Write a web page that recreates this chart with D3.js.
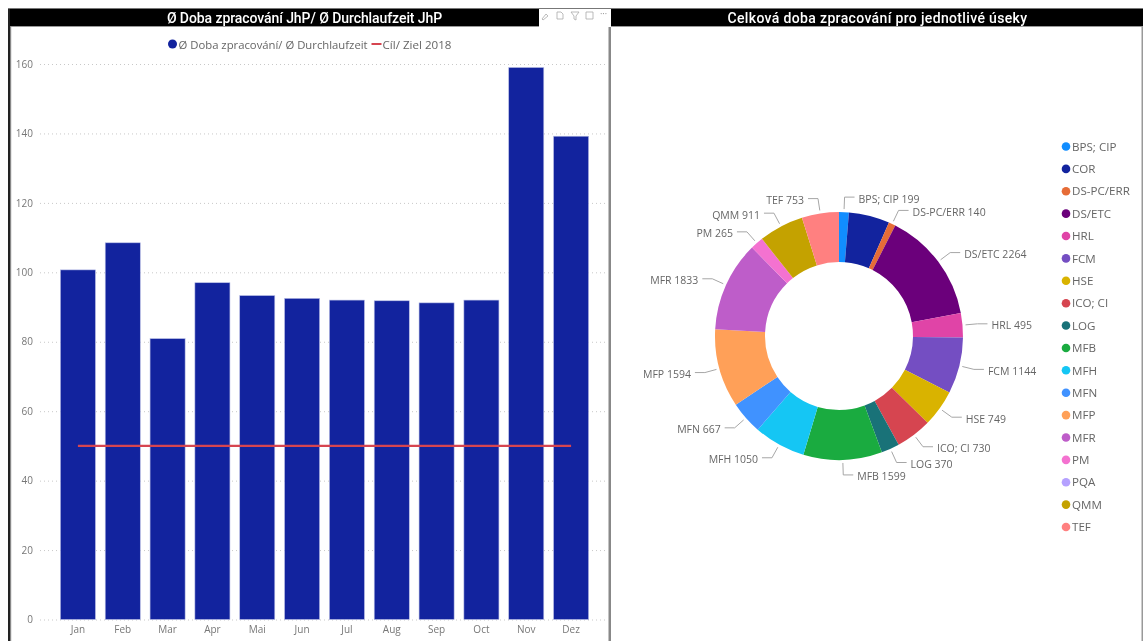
<!DOCTYPE html>
<html><head><meta charset="utf-8">
<script src="https://cdn.jsdelivr.net/npm/d3@7/dist/d3.min.js"></script>
<style>
html,body{margin:0;padding:0;background:#fff;overflow:hidden}
svg{display:block;filter:blur(0.35px)}
text{font-family:"Open Sans","Noto Sans",sans-serif;fill:#666}
.title{font-family:Roboto,sans-serif;font-weight:500;fill:#fff;font-size:14px;text-anchor:middle}
</style></head><body>
<script>
const months = ["Jan","Feb","Mar","Apr","Mai","Jun","Jul","Aug","Sep","Oct","Nov","Dez"];
const avgDays = [100.7,108.5,80.9,97,93.3,92.5,92,91.8,91.2,92,159,139.2];
const targetDays = [50,50,50,50,50,50,50,50,50,50,50,50];
const yTicks = [0,20,40,60,80,100,120,140,160];
const sections = ["BPS; CIP","COR","DS-PC/ERR","DS/ETC","HRL","FCM","HSE","ICO; CI","LOG","MFB","MFH","MFN","MFP","MFR","PM","PQA","QMM","TEF"];
const sectionTotals = [199,830,140,2264,495,1144,749,730,370,1599,1050,667,1594,1833,265,0,911,753];
const unlabelled = ["COR","PQA"];
const sectionColors = ["#118DFF","#12239E","#E66C37","#6B007B","#E044A7","#744EC2","#D9B300","#D64550","#197278","#1AAB40","#15C6F4","#4092FF","#FFA058","#BE5DC9","#F472D0","#B5A1FF","#C4A200","#FF8080"];
const titleLeft = "Ø Doba zpracování JhP/ Ø Durchlaufzeit JhP";
const titleRight = "Celková doba zpracování pro jednotlivé úseky";
const legendLeft = ["Ø Doba zpracování/ Ø Durchlaufzeit","Cíl/ Ziel 2018"];

const svg = d3.select("body").append("svg").attr("width",1143).attr("height",641);

// frames and title bars
svg.append("rect").attr("x",8).attr("y",8).attr("width",1135).attr("height",1.5).attr("fill","#777");
svg.append("rect").attr("x",8).attr("y",9).attr("width",1135).attr("height",17).attr("fill","#000");
svg.append("rect").attr("x",8).attr("y",9).attr("width",2).attr("height",632).attr("fill","#222");
svg.append("rect").attr("x",10).attr("y",26).attr("width",1.2).attr("height",615).attr("fill","#888");
svg.append("rect").attr("x",608.5).attr("y",26).attr("width",2.5).attr("height",615).attr("fill","#888");
svg.append("rect").attr("x",1141.5).attr("y",26).attr("width",1.5).attr("height",615).attr("fill","#999");
svg.append("rect").attr("x",11).attr("y",26).attr("width",1132).attr("height",1).attr("fill","#999");
svg.append("rect").attr("x",539).attr("y",9).attr("width",72).attr("height",18).attr("fill","#fff");
svg.append("text").attr("class","title").attr("x",304.5).attr("y",23).attr("letter-spacing","-0.08px").text(titleLeft);
svg.append("text").attr("class","title").attr("x",877.5).attr("y",23).attr("letter-spacing","0.35px").text(titleRight);

// visual header icons
const ic = svg.append("g").attr("fill","none").attr("stroke","#aaa").attr("stroke-width",0.8);
ic.append("path").attr("d","M542 19l4-5 2 2-5 4z");
ic.append("path").attr("d","M557 12h4l2 2v5h-6z");
ic.append("path").attr("d","M571 12h8l-3 4v4l-2-1v-3z");
ic.append("path").attr("d","M586 12h7v7h-7z");
svg.append("text").attr("x",600).attr("y",17).attr("font-size",9).style("fill","#888").text("···");

// bar chart
const x = d3.scaleBand().domain(months).range([55.5,593.5]).paddingInner(0.218).paddingOuter(0.109);
const y = d3.scaleLinear().domain([0,160]).range([619.5,64]);
const gy = svg.append("g").attr("transform","translate(40,0)")
  .call(d3.axisLeft(y).tickValues(yTicks).tickSize(-565).tickPadding(7));
gy.select(".domain").remove();
gy.selectAll("line").attr("stroke","#c8c8c8").attr("stroke-dasharray","1 3").attr("stroke-width",1);
gy.selectAll("text").attr("font-size",10).style("fill","#777");
const gx = svg.append("g").attr("transform","translate(0,619.5)")
  .call(d3.axisBottom(x).tickSize(0).tickPadding(6));
gx.select(".domain").remove();
gx.selectAll("text").attr("font-size",10).style("fill","#777");
svg.append("g").selectAll("rect").data(avgDays).join("rect")
  .attr("x",(d,i)=>x(months[i])).attr("width",x.bandwidth())
  .attr("y",d=>y(d)).attr("height",d=>y(0)-y(d))
  .attr("fill","#12239E").attr("stroke","#b9bfe6").attr("stroke-width",0.6);
const line = d3.line().x((d,i)=>x(months[i])+x.bandwidth()/2).y(d=>y(d));
svg.append("path").datum(targetDays).attr("d",line).attr("fill","none").attr("stroke","#D64550").attr("stroke-width",2.2);

// bar legend
svg.append("circle").attr("cx",172.5).attr("cy",44).attr("r",4.5).attr("fill","#12239E");
svg.append("text").attr("x",178.5).attr("y",48.5).attr("font-size",11.3).text(legendLeft[0]);
svg.append("rect").attr("x",371.5).attr("y",43).attr("width",10).attr("height",2).attr("fill","#D64550");
svg.append("text").attr("x",382.5).attr("y",48.5).attr("font-size",11.6).text(legendLeft[1]);

// donut
const cx=839, cy=336, R=124, r0=74;
const pie = d3.pie().sort(null).value(d=>d);
const arcs = pie(sectionTotals);
const arc = d3.arc().innerRadius(r0).outerRadius(R);
const g = svg.append("g").attr("transform",`translate(${cx},${cy})`);
g.selectAll("path.s").data(arcs).join("path").attr("class","s")
  .attr("d",arc).attr("fill",(d,i)=>sectionColors[i]);
const polar=(a,rr)=>[Math.sin(a)*rr,-Math.cos(a)*rr];
arcs.forEach((d,i)=>{
  if(unlabelled.includes(sections[i])) return;
  const a=(d.startAngle+d.endAngle)/2, side=Math.sin(a)>=0?1:-1;
  const p0=polar(a,R+3), p1=polar(a,R+15), p2=[p1[0]+side*10,p1[1]];
  g.append("path").attr("d",d3.line()([p0,p1,p2])).attr("fill","none").attr("stroke","#a6a6a6").attr("stroke-width",1);
  g.append("text").attr("x",p2[0]+side*4).attr("y",p2[1]+5.5)
    .attr("text-anchor",side>0?"start":"end").attr("font-size",10.5)
    .text(sections[i]+" "+d3.format("d")(d.value));
});

// donut legend
const ly = d3.scalePoint().domain(sections).range([146.5,527]);
const lg = svg.append("g").selectAll("g").data(sections).join("g")
  .attr("transform",d=>`translate(1066,${ly(d)})`);
lg.append("circle").attr("r",4.3).attr("fill",(d,i)=>sectionColors[i]);
lg.append("text").attr("x",6).attr("y",4.2).attr("font-size",11.6).text(d=>d);
</script>
</body></html>
